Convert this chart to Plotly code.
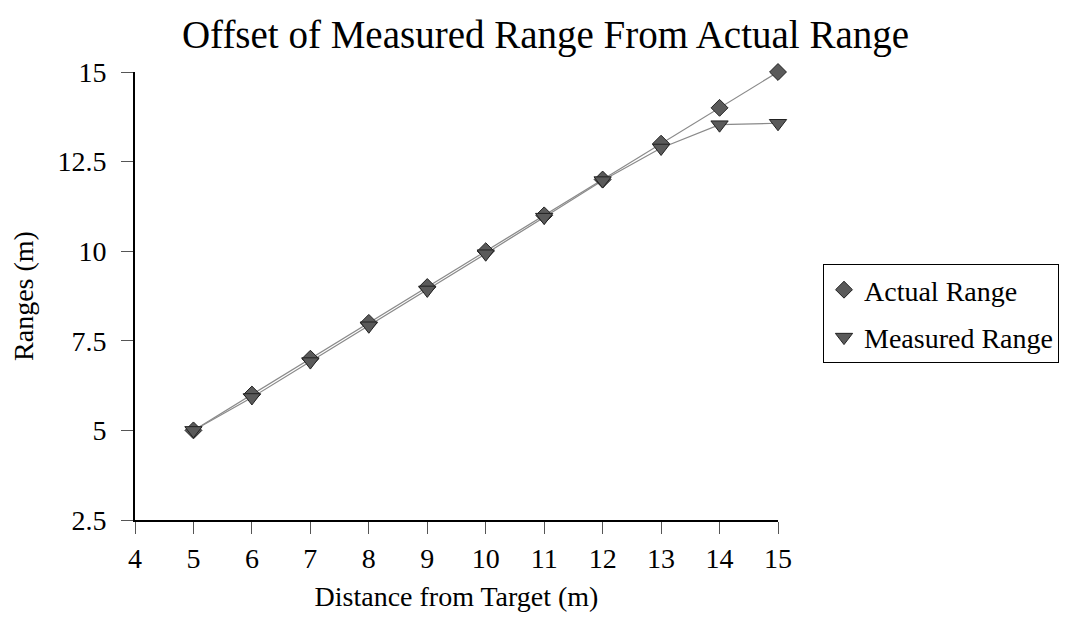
import plotly.graph_objects as go

# Target distance (m) and range readings
distance = [5, 6, 7, 8, 9, 10, 11, 12, 13, 14, 15]
actual_range = [5, 6, 7, 8, 9, 10, 11, 12, 13, 14, 15]
measured_range = [5.0, 5.92, 6.92, 7.92, 8.92, 9.93, 10.95, 11.97, 12.88, 13.53, 13.57]

x_ticks = [4, 5, 6, 7, 8, 9, 10, 11, 12, 13, 14, 15]
y_ticks = [2.5, 5, 7.5, 10, 12.5, 15]

FONT = "Liberation Serif, Times New Roman, serif"
LINE_COLOR = "#8a8a8a"
MARKER_FILL = "#5a5a5a"

fig = go.Figure()

# connecting lines, drawn under the markers
for ys in (actual_range, measured_range):
    fig.add_trace(go.Scatter(
        x=distance, y=ys, mode="lines",
        line=dict(color=LINE_COLOR, width=1.2),
        showlegend=False, hoverinfo="skip", cliponaxis=False,
    ))

fig.add_trace(go.Scatter(
    x=distance, y=actual_range, mode="markers", name="Actual Range",
    legendgroup="actual",
    marker=dict(symbol="diamond", size=13, color=MARKER_FILL,
                line=dict(color="#222222", width=1)),
    cliponaxis=False,
))
fig.add_trace(go.Scatter(
    x=distance, y=measured_range, mode="markers", name="Measured Range",
    legendgroup="measured",
    marker=dict(symbol="triangle-down", size=15, color=MARKER_FILL,
                line=dict(color="#222222", width=1)),
    cliponaxis=False,
))

axis_common = dict(
    showgrid=False, zeroline=False,
    showline=True, linecolor="black", linewidth=2,
    ticks="outside", ticklen=12, tickwidth=1, tickcolor="#555555",
    tickfont=dict(family=FONT, size=28, color="black"),
    title_font=dict(family=FONT, size=28, color="black"),
)

fig.update_xaxes(
    range=[4, 15], tickvals=x_ticks, ticktext=[str(v) for v in x_ticks],
    title_text="Distance from Target (m)", title_standoff=14,
    **axis_common,
)
fig.update_yaxes(
    range=[2.5, 15], tickvals=y_ticks, ticktext=[f"{v:g}" for v in y_ticks],
    title_text="Ranges (m)", title_standoff=16, ticklabelstandoff=9,
    **axis_common,
)

fig.update_layout(
    width=1091, height=620,
    margin=dict(l=135, r=313, t=72, b=100),
    paper_bgcolor="white", plot_bgcolor="white",
    title=dict(
        text="Offset of Measured Range From Actual Range",
        x=0.5, xanchor="center", y=0.945, yanchor="middle",
        font=dict(family=FONT, size=39, color="black"),
    ),
    legend=dict(
        x=1.07, xanchor="left", y=1 - (264 - 72) / 448, yanchor="top",
        bordercolor="black", borderwidth=1, bgcolor="white",
        font=dict(family=FONT, size=28, color="black"),
        itemwidth=30, traceorder="grouped", tracegroupgap=8,
    ),
    showlegend=True,
)

fig.write_html("out.html")
